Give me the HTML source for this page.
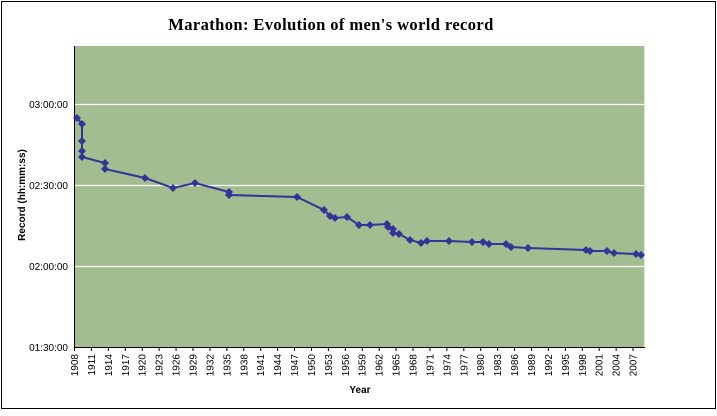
<!DOCTYPE html>
<html><head><meta charset="utf-8"><style>body{margin:0;background:#fff}</style></head><body>
<svg width="717" height="411" xmlns="http://www.w3.org/2000/svg" font-family="Liberation Sans, sans-serif">
<rect x="1.5" y="1.5" width="714" height="407" fill="#fff" stroke="#000" stroke-width="1"/>
<text x="331" y="30" text-anchor="middle" font-family="Liberation Serif, serif" font-weight="bold" font-size="16.5" letter-spacing="0.4">Marathon: Evolution of men's world record</text>
<rect x="74.5" y="46" width="570" height="301" fill="#a2bd8f"/>
<line x1="644.5" y1="46" x2="644.5" y2="347" stroke="#dfe8d8" stroke-width="1"/>
<g stroke="#fff" stroke-width="1.2">
<line x1="74.5" y1="104.5" x2="644" y2="104.5"/>
<line x1="74.5" y1="185.5" x2="644" y2="185.5"/>
<line x1="74.5" y1="266.5" x2="644" y2="266.5"/>
</g>
<line x1="74.5" y1="46" x2="74.5" y2="347.5" stroke="#000"/>
<line x1="74" y1="347.5" x2="645" y2="347.5" stroke="#000"/>
<g stroke="#000" id="ticks"></g>
<g font-size="10" text-anchor="end" fill="#000">
<text x="68" y="108">03:00:00</text>
<text x="68" y="189">02:30:00</text>
<text x="68" y="270">02:00:00</text>
<text x="68" y="351">01:30:00</text>
</g>
<text transform="translate(25,195) rotate(-90)" text-anchor="middle" font-size="10" font-weight="bold">Record (hh:mm:ss)</text>
<text x="360" y="393" text-anchor="middle" font-size="10" font-weight="bold">Year</text>
<g id="xl" font-size="10"></g>
<polyline fill="none" stroke="#333399" stroke-width="2" points="77,118 82,124 82,141 82,151 82,157 105,163 105,169 145,178 173,188 195,183 229,192 229,195 297,197 324,210 330,216 335,218 347,217 359,225 370,225 387,224 388,227 393,229 393,233 399,234 410,240 421,243 427,241 449,241 472,242 483,242 489,244 506,244 511,247 528,248 586,250 590,251 607,251 614,253 636,254 641,255"/>
<g id="pts" fill="#333399"></g>
<script>
var ns="http://www.w3.org/2000/svg";
var t=document.getElementById("ticks"),xl=document.getElementById("xl");
for(var i=0;i<=33;i++){var x=74.5+i*3*5.642;var l=document.createElementNS(ns,"line");l.setAttribute("x1",x);l.setAttribute("x2",x);l.setAttribute("y1",347);l.setAttribute("y2",351);t.appendChild(l);
var tx=document.createElementNS(ns,"text");tx.setAttribute("transform","translate("+(x+3.5)+",354) rotate(-90)");tx.setAttribute("text-anchor","end");tx.textContent=1908+i*3;xl.appendChild(tx);}
var p="77,118 82,124 82,141 82,151 82,157 105,163 105,169 145,178 173,188 195,183 229,192 229,195 297,197 324,210 330,216 335,218 347,217 359,225 370,225 387,224 388,227 393,229 393,233 399,234 410,240 421,243 427,241 449,241 472,242 483,242 489,244 506,244 511,247 528,248 586,250 590,251 607,251 614,253 636,254 641,255".split(" ");
var g=document.getElementById("pts");
p.forEach(function(s){var a=s.split(",").map(Number);var q=document.createElementNS(ns,"polygon");q.setAttribute("points",(a[0])+","+(a[1]-4)+" "+(a[0]+4)+","+a[1]+" "+a[0]+","+(a[1]+4)+" "+(a[0]-4)+","+a[1]);g.appendChild(q);});
</script>
</svg>
</body></html>
